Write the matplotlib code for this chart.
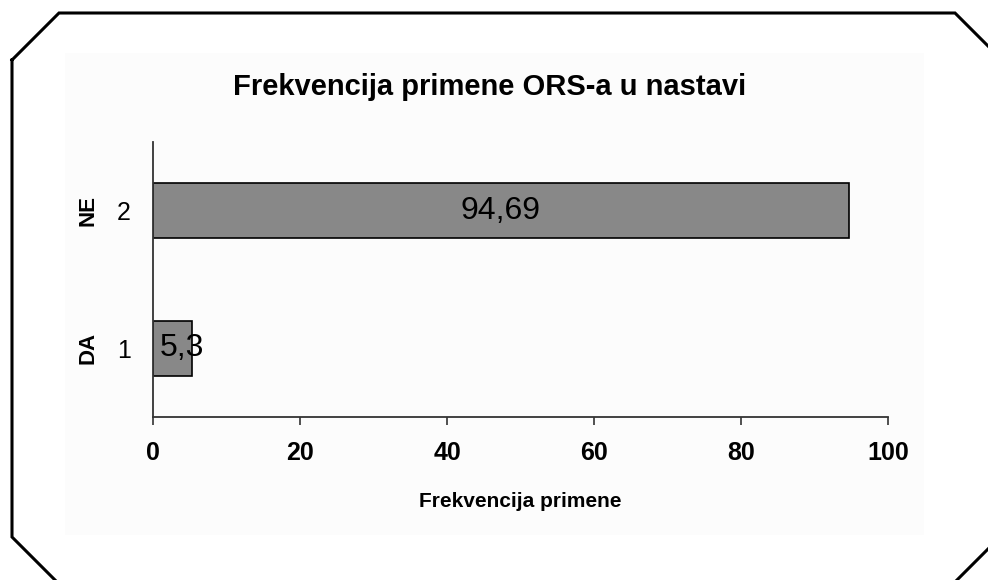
import matplotlib
matplotlib.use('Agg')
import matplotlib.pyplot as plt
import matplotlib.transforms as mtransforms
from matplotlib.patches import Rectangle
from matplotlib.lines import Line2D

# data
codes = [1, 2]
names = ['DA', 'NE']
values = [5.3, 94.69]
value_labels = ['5,3', '94,69']
x_ticks = [0, 20, 40, 60, 80, 100]

plt.rcParams['font.family'] = ['Liberation Sans', 'DejaVu Sans']

W, H = 988, 580
fig = plt.figure(figsize=(W / 100, H / 100), dpi=100)
fig.patch.set_facecolor('white')

def fx(px):
    return px / W

def fy(py):
    return 1 - py / H

# chart area background
fig.patches.append(Rectangle((fx(65), fy(535)), fx(924) - fx(65), fy(53) - fy(535),
                             transform=fig.transFigure, facecolor='#fcfcfc',
                             edgecolor='none', zorder=-10))

# octagon frame
pts = [(12, 60), (59, 13), (955, 13), (1000, 58), (1000, 537), (952, 585),
       (60, 585), (12, 537), (12, 60)]
fig.lines.append(Line2D([fx(p[0]) for p in pts], [fy(p[1]) for p in pts],
                        transform=fig.transFigure, color='black', lw=2.2,
                        solid_joinstyle='miter', zorder=-5))

ax = fig.add_axes([fx(153), fy(417), fx(888) - fx(153), fy(142) - fy(417)])
ax.set_facecolor('none')
ax.set_zorder(5)

ax.barh(codes, values, height=0.4, color='#888888', edgecolor='black', linewidth=1.2)

ax.set_xlim(0, 100)
ax.set_ylim(0.5, 2.5)
ax.set_xticks(x_ticks)
ax.set_xticklabels([str(t) for t in x_ticks], fontsize=18, fontweight='bold')
ax.set_yticks(codes)
ax.set_yticklabels([str(c) for c in codes], fontsize=18)
ax.tick_params(axis='x', length=6, width=1.2, color='#333333', pad=11)
ax.tick_params(axis='y', length=0, pad=16)

for s in ['top', 'right']:
    ax.spines[s].set_visible(False)
for s in ['left', 'bottom']:
    ax.spines[s].set_color('#333333')
    ax.spines[s].set_linewidth(1.3)

# category names, rotated, left of the tick numbers
trans = mtransforms.blended_transform_factory(ax.transAxes, ax.transData)
for c, n in zip(codes, names):
    ax.text(-0.0884, c, n, transform=trans, rotation=90, ha='center', va='center',
            fontsize=16, fontweight='bold')

# value labels
for c, v, lab in zip(codes, values, value_labels):
    if v > 20:
        ax.text(v / 2, c, lab, ha='center', va='center', fontsize=23)
    else:
        ax.annotate(lab, (0, c), xytext=(5, 0), textcoords='offset points',
                    ha='left', va='center', fontsize=23)

ax.set_xlabel('Frekvencija primene', fontsize=15, fontweight='bold', labelpad=20)

fig.text(fx(490), fy(87), 'Frekvencija primene ORS-a u nastavi', ha='center',
         va='center', fontsize=21, fontweight='bold')

fig.savefig('out.png', dpi=100)
